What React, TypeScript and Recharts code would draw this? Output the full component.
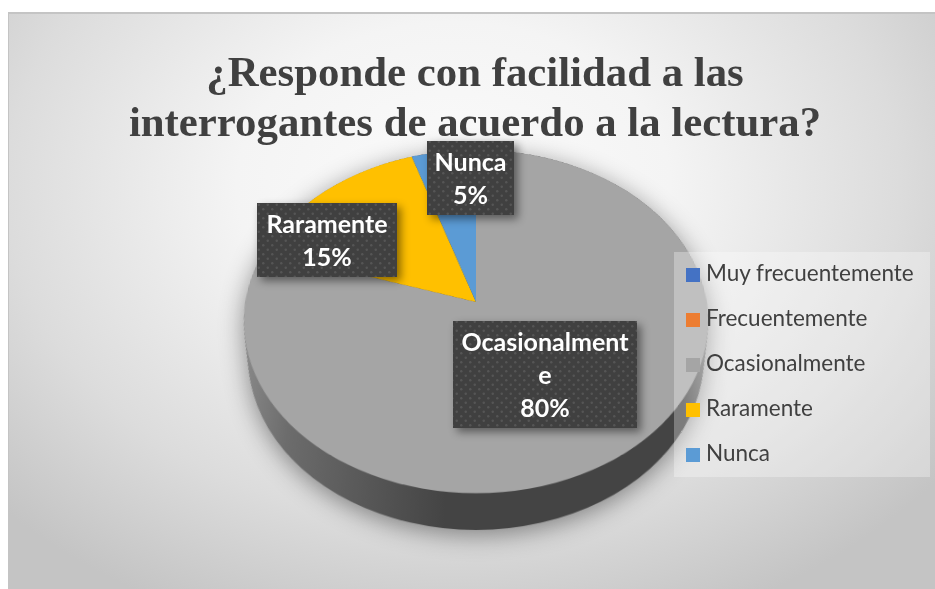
import React from 'react'
import { PieChart, Pie, Legend } from 'recharts'

const titleLines = ['¿Responde con facilidad a las', 'interrogantes de acuerdo a la lectura?']
const categories = ['Muy frecuentemente', 'Frecuentemente', 'Ocasionalmente', 'Raramente', 'Nunca']
const values = [0, 0, 80, 15, 5]
const colors = ['#4472c4', '#ed7d31', '#a5a5a5', '#ffc000', '#5b9bd5']

// wrapped label lines as they appear in the original
const labelLines: Record<string, string[]> = {
  Ocasionalmente: ['Ocasionalment', 'e'],
  Raramente: ['Raramente'],
  Nunca: ['Nunca'],
}
// label boxes are placed by hand, like in the original chart
const labelBoxes: Record<string, { x: number; y: number; w: number; h: number }> = {
  Ocasionalmente: { x: 453, y: 321, w: 184, h: 107 },
  Raramente: { x: 257, y: 203, w: 140, h: 74 },
  Nunca: { x: 427, y: 141, w: 87, h: 74 },
}

const pieData = categories.map((name, i) => ({ name, value: values[i], fill: colors[i] }))
const wallData = [{ name: 'wall', value: values.reduce((a, b) => a + b, 0), fill: 'url(#wallFill)' }]

const SIZE = 640
const CENTER = SIZE / 2
const RADIUS = 230.5
const LEFT = 476 - CENTER
const wallOffsets = Array.from({ length: 25 }, (_, i) => (24 - i) * 2)

function renderLabel(props: any) {
  const { name, value, percent, index } = props
  if (!value) return null
  const box = labelBoxes[name]
  const lines = [...labelLines[name], `${Math.round(percent * 100)}%`]
  const lh = 33
  const firstY = box.y + box.h / 2 - ((lines.length - 1) * lh) / 2 + 9.5
  return (
    <g key={index}>
      <rect x={box.x} y={box.y} width={box.w} height={box.h} fill="#404040" style={{ filter: 'drop-shadow(4px 4px 4px rgba(0,0,0,0.45))' }} />
      <rect x={box.x} y={box.y} width={box.w} height={box.h} fill="url(#labelDots)" />
      {lines.map((line, i) => (
        <text key={line} x={box.x + box.w / 2} y={firstY + i * lh} textAnchor="middle" fill="#ffffff" fontFamily="Lato" fontWeight={700} fontSize={25}>
          {line}
        </text>
      ))}
    </g>
  )
}

export default function App() {
  return (
    <div style={{ position: 'absolute', left: 0, top: 0, width: 935, height: 589, background: '#fff', overflow: 'hidden' }}>
      <style>{`.recharts-legend-item { margin-bottom: 20px; height: 25px; line-height: 25px; white-space: nowrap; }
        .recharts-legend-item svg { vertical-align: -1px !important; margin-right: 6px !important; }`}</style>
      <div
        style={{
          position: 'absolute',
          left: 8,
          top: 12,
          width: 927,
          height: 577,
          borderTop: '2px solid #c4c4c4',
          borderLeft: '1px solid #c4c4c4',
          boxSizing: 'border-box',
          background: 'radial-gradient(ellipse 620px 470px at 48% 30%, #fbfbfb 0%, #f4f4f4 35%, #dcdcdc 72%, #c4c4c4 100%)',
        }}
      />

      {/* the pie itself, tilted back to get the 3D look */}
      <div style={{ position: 'absolute', left: 0, top: 0, width: 935, height: 589, filter: 'drop-shadow(0 5px 12px rgba(0,0,0,0.42))' }}>
        <div
          style={{
            position: 'absolute',
            left: LEFT,
            top: 302 - CENTER,
            width: SIZE,
            height: SIZE,
            transform: 'perspective(1371px) rotateX(42.7deg)',
            transformOrigin: '50% 50%',
          }}
        >
          <PieChart width={SIZE} height={SIZE} margin={{ top: 0, right: 0, bottom: 0, left: 0 }}>
            <defs>
              <linearGradient id="wallFill" gradientUnits="userSpaceOnUse" x1={248 - LEFT} y1="0" x2={706 - LEFT} y2="0">
                <stop offset="0%" stopColor="#8c8c8c" />
                <stop offset="12%" stopColor="#6c6c6c" />
                <stop offset="44%" stopColor="#444444" />
                <stop offset="92%" stopColor="#444444" />
                <stop offset="100%" stopColor="#909090" />
              </linearGradient>
            </defs>
            {wallOffsets.map((dy) => (
              <Pie
                key={dy}
                data={wallData}
                dataKey="value"
                nameKey="name"
                cx={CENTER}
                cy={CENTER + dy}
                outerRadius={RADIUS - dy * 0.2}
                startAngle={90}
                endAngle={-270}
                stroke="none"
                isAnimationActive={false}
              />
            ))}
            <Pie
              data={pieData}
              dataKey="value"
              nameKey="name"
              cx={CENTER}
              cy={CENTER}
              outerRadius={RADIUS}
              startAngle={90}
              endAngle={-270}
              stroke="none"
              isAnimationActive={false}
            />
          </PieChart>
        </div>
      </div>

      <div style={{ position: 'absolute', left: 0, top: 47, width: 950, textAlign: 'center', fontFamily: '"Liberation Serif"', fontWeight: 700, fontSize: 42.8, lineHeight: '50px', color: '#404040' }}>
        {titleLines.map((line) => (
          <div key={line}>{line}</div>
        ))}
      </div>

      {/* flat layer on top: legend and data labels */}
      <div style={{ position: 'absolute', left: 0, top: 0 }}>
        <PieChart width={935} height={589} margin={{ top: 0, right: 0, bottom: 0, left: 0 }}>
          <defs>
            <pattern id="labelDots" width="9" height="9" patternUnits="userSpaceOnUse">
              <circle cx="2.25" cy="2.25" r="1.2" fill="#555555" />
              <circle cx="6.75" cy="6.75" r="1.2" fill="#555555" />
            </pattern>
          </defs>
          <Pie
            data={pieData}
            dataKey="value"
            nameKey="name"
            cx={476}
            cy={302}
            outerRadius={10}
            startAngle={90}
            endAngle={-270}
            fillOpacity={0}
            stroke="none"
            legendType="square"
            label={renderLabel}
            labelLine={false}
            isAnimationActive={false}
          />
          <Legend
            layout="vertical"
            align="left"
            verticalAlign="top"
            iconType="square"
            iconSize={14}
            itemSorter={null}
            wrapperStyle={{ left: 674, top: 252, width: 256, height: 225, padding: '8px 0 0 12px', boxSizing: 'border-box', background: 'rgba(255,255,255,0.3)', fontFamily: 'Lato', fontSize: 22.5 }}
            formatter={(value: string) => <span style={{ color: '#404040' }}>{value}</span>}
          />
        </PieChart>
      </div>
    </div>
  )
}
